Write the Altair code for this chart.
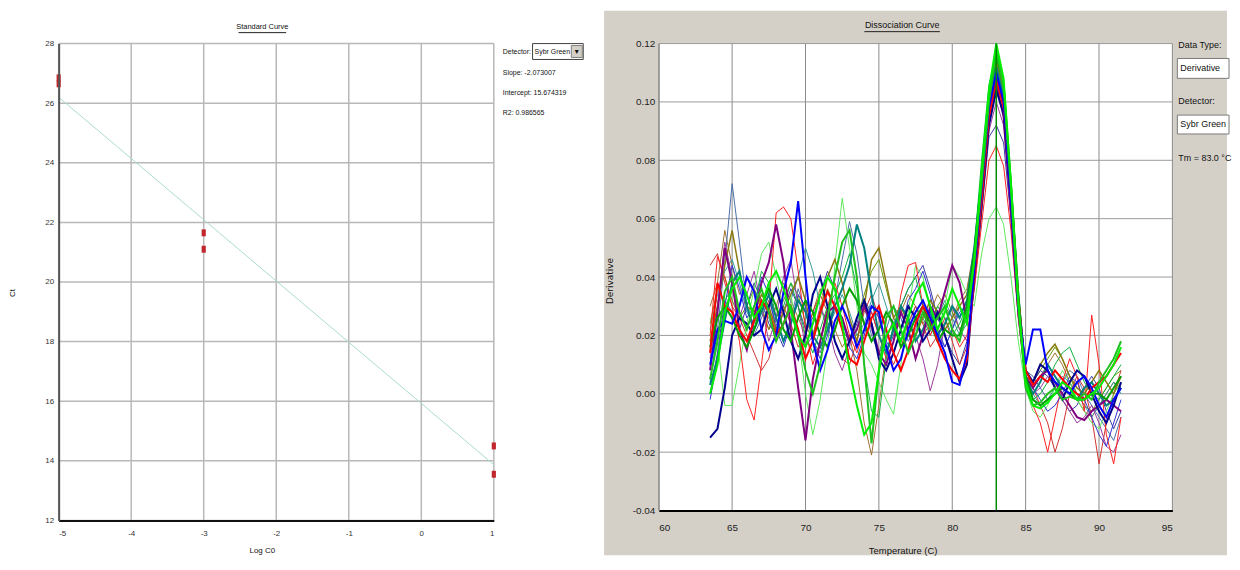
import altair as alt
import pandas as pd

FONT = "Liberation Sans Narrow, Arial Narrow, Liberation Sans, Arial, sans-serif"

# ---------------- Standard curve (left) ----------------
STD_LOG_C0 = [-5, -5, -3, -3, 1, 1]
STD_CT = [26.85, 26.65, 21.65, 21.10, 14.50, 13.55]
FIT_LOG_C0 = [-5, 1]
FIT_CT = [26.20, 13.87]
STD_X_TICKS = [-5, -4, -3, -2, -1, 0, 1]
STD_Y_TICKS = [12, 14, 16, 18, 20, 22, 24, 26, 28]
STD_STATS = ["Slope: -2.073007", "Intercept: 15.674319", "R2: 0.986565"]

# ---------------- Dissociation curve (right) ----------------
TEMPS = [63.5, 64.0, 64.5, 65.0, 65.5, 66.0, 66.5, 67.0, 67.5, 68.0,
         68.5, 69.0, 69.5, 70.0, 70.5, 71.0, 71.5, 72.0, 72.5, 73.0,
         73.5, 74.0, 74.5, 75.0, 75.5, 76.0, 76.5, 77.0, 77.5, 78.0,
         78.5, 79.0, 79.5, 80.0, 80.5, 81.0, 81.5, 82.0, 82.5, 83.0,
         83.5, 84.0, 84.5, 85.0, 85.5, 86.0, 86.5, 87.0, 87.5, 88.0,
         88.5, 89.0, 89.5, 90.0, 90.5, 91.0, 91.5]
DIS_X_TICKS = [60, 65, 70, 75, 80, 85, 90, 95]
DIS_Y_TICKS = [-0.04, -0.02, 0.0, 0.02, 0.04, 0.06, 0.08, 0.10, 0.12]
TM = [83.0]

# derivative values in thousandths (x 0.001)
RED_THICK = [14, 38, 30, 28, 22, 18, 25, 32, 28, 20, 24, 30, 22, 12, 18, 28, 35, 30, 22, 12,
             10, 18, 26, 30, 22, 14, 8, 15, 24, 30, 26, 18, 12, 8, 5, 12,
             40, 66, 95, 108, 98, 68, 32, 8,
             3, 6, 4, 8, 5, 2, 0, -2, 2, 4, 6, 10, 14]
BLUE_THICK = [10, 22, 25, 24, 30, 40, 35, 22, 15, 20, 35, 45, 66, 40, 18, 8, 15, 25, 30, 24,
              16, 22, 30, 28, 16, 8, 12, 22, 28, 32, 26, 20, 14, 4, 3, 14,
              42, 70, 98, 110, 100, 66, 30, 10,
              22, 22, 8, 4, 2, 0, 4, 6, 2, -4, -8, -2, 2]
GREEN_THICK = [5, 18, 35, 40, 28, 22, 30, 36, 28, 18, 24, 30, 20, 8, 0, 10, 26, 40, 52, 56,
               40, 10, -17, 8, 26, 30, 22, 14, 20, 28, 22, 26, 30, 22, 18, 28,
               45, 72, 100, 118, 105, 70, 30, 2,
               -4, -3, 0, 2, -2, -1, -2, 0, -2, 4, 8, 12, 18]
PURPLE_THICK = [8, 28, 50, 38, 22, 15, 26, 38, 45, 58, 45, 22, 2, -16, 5, 18, 28, 30, 26, 18,
                22, 30, 24, 14, 10, 18, 28, 22, 12, 20, 30, 26, 35, 44, 38, 25,
                42, 68, 96, 106, 95, 62, 28, 6,
                2, 6, 8, 4, 0, -4, -8, -9, -6, -4, -2, -4, -6]
TEAL_THICK = [3, 12, 25, 38, 42, 30, 22, 28, 34, 26, 18, 24, 32, 28, 20, 16, 22, 30, 36, 44,
              58, 50, 34, 20, 14, 22, 30, 26, 18, 22, 28, 20, 24, 30, 26, 32,
              50, 74, 100, 112, 102, 70, 34, 6,
              0, 4, 10, 6, 2, 0, -2, 2, 4, 0, -4, -2, 2]
NAVY_THICK = [-15, -12, 2, 20, 26, 24, 20, 22, 30, 36, 28, 18, 12, 20, 34, 40, 30, 18, 12, 18,
              26, 32, 24, 12, 8, 14, 22, 30, 26, 18, 22, 28, 20, 12, 4, 10,
              40, 64, 92, 104, 96, 66, 30, 8,
              4, 10, 8, 2, -2, 4, 8, 6, 0, -6, -10, -4, 4]
OLIVE = [18, 30, 44, 56, 42, 30, 28, 34, 30, 22, 28, 34, 40, 32, 20, 28, 40, 46, 38, 26,
         18, 30, 46, 50, 38, 26, 30, 24, 20, 26, 32, 28, 22, 26, 30, 34,
         48, 72, 100, 114, 104, 72, 34, 8,
         4, 10, 14, 17, 12, 6, 2, 0, 4, 8, 4, 0, 6]
LIME_THICK = [0, 10, 28, 36, 40, 34, 26, 30, 38, 42, 36, 28, 20, 16, 24, 34, 40, 36, 24, 8,
              -4, -14, -10, 8, 20, 24, 18, 26, 34, 38, 30, 22, 28, 36, 30, 24,
              46, 76, 104, 120, 108, 72, 32, 4,
              -4, -5, -3, 0, 4, 2, -2, -2, 0, 2, 6, 10, 16]
RED_THIN = [20, 47, 40, 30, 18, -2, -9, 10, 30, 62, 64, 60, 42, 22, 10, 18, 30, 38, 30, 20,
            14, 22, 28, 20, 12, 18, 34, 44, 45, 30, 20, 26, 30, 22, 16, 20,
            36, 58, 80, 85, 78, 56, 26, 4,
            -4, -10, -20, -8, 4, 12, 6, -6, 27, 10, -14, -24, -8]
BLUE_THIN = [-2, 12, 30, 44, 36, 26, 30, 40, 34, 22, 16, 24, 34, 30, 18, 12, 20, 30, 26, 16,
             12, 20, 30, 26, 18, 14, 22, 32, 36, 42, 34, 22, 16, 22, 28, 30,
             44, 70, 98, 108, 100, 68, 30, 6,
             2, -2, -6, -4, 0, 6, 4, -2, -8, -14, -18, -10, -2]
LIGHTGREEN_THIN = [26, 18, -4, -4, 10, 24, 36, 48, 52, 40, 28, 34, 20, 0, -14, -2, 16, 44, 67, 50,
                   30, 14, 10, 4, -2, -7, 10, 28, 44, 40, 30, 22, 30, 44, 40, 34,
                   30, 48, 60, 64, 58, 40, 18, 2,
                   -6, -8, -4, 2, 8, 4, -2, -6, -10, -12, -6, 0, 4]
PURPLE_THIN = [12, 30, 52, 40, 26, 34, 42, 30, 18, 26, 40, 46, 30, 16, 20, 30, 24, 14, 8, 16,
               26, 30, 22, 14, 18, 26, 30, 24, 20, 12, 1, 10, 24, 30, 22, 18,
               38, 64, 90, 100, 92, 62, 28, 4,
               0, 2, 6, 4, -2, -6, -10, -8, -4, -10, -18, -20, -14]
STEEL_THIN = [4, 22, 45, 72, 52, 30, 20, 26, 32, 24, 18, 26, 36, 28, 18, 14, 22, 32, 46, 59,
              48, 30, 20, 14, 22, 30, 26, 18, 22, 30, 26, 20, 16, 22, 30, 26,
              44, 70, 96, 110, 100, 68, 32, 8,
              6, 2, -2, 0, 4, 8, 6, 0, -4, -8, -12, -16, -8]
GREEN_THIN = [10, 20, 32, 36, 28, 22, 30, 42, 38, 26, 30, 38, 30, 20, 14, 22, 30, 34, 40, 48,
              36, 10, -6, -8, 12, 24, 30, 36, 40, 30, 24, 30, 26, 20, 24, 30,
              50, 80, 106, 116, 104, 70, 30, 4,
              -2, 0, 4, 10, 14, 16, 10, 4, 0, -2, 2, 6, 10]
CRIMSON_THIN = [44, 48, 38, 30, 26, 20, 14, 8, 12, 22, 30, 24, 16, 20, 28, 34, 28, 18, 12, 10,
                18, 28, 34, 26, 16, 10, 16, 24, 30, 24, 16, 20, 26, 18, 10, 16,
                40, 66, 94, 104, 96, 66, 28, 6,
                2, -4, -10, -20, -12, 0, 6, 2, -8, -24, -10, 0, 8]
DARKGREEN_THICK = [16, 26, 30, 26, 20, 16, 22, 30, 36, 30, 22, 18, 26, 32, 28, 20, 16, 22, 30, 36,
                   32, 24, 18, 22, 28, 24, 16, 20, 26, 30, 24, 18, 22, 20, 20, 30,
                   48, 74, 102, 116, 106, 72, 34, 6,
                   -2, -4, -2, 0, 2, 0, -2, -2, 0, 0, -2, 2, 6]
OLIVEGREEN_THIN = [24, 36, 40, 32, 26, 30, 36, 30, 22, 26, 32, 38, 34, 24, 18, 26, 36, 30, 22, 18,
                   26, 34, 42, 46, 36, 26, 22, 30, 26, 20, 24, 30, 34, 28, 22, 26,
                   44, 70, 98, 112, 100, 68, 30, 6,
                   4, 8, 12, 16, 12, 6, 0, -4, -6, -2, 2, 6, 8]
BROWN_THIN = [30, 38, 56, 44, 34, 40, 36, 28, 22, 30, 38, 32, 26, 20, 28, 36, 30, 22, 16, 20,
              8, -10, -21, -4, 14, 22, 28, 34, 30, 24, 28, 34, 30, 26, 32, 36,
              50, 76, 104, 114, 104, 70, 32, 6,
              2, 6, 10, 14, 10, 4, -2, -6, -8, -4, 0, 4, 2]
NAVY_THIN = [0, 14, 32, 28, 22, 30, 38, 32, 24, 20, 28, 36, 30, 22, 26, 34, 42, 36, 24, 18,
             24, 32, 28, 20, 14, 20, 30, 36, 40, 44, 36, 26, 20, 14, 10, 18,
             36, 62, 88, 92, 86, 60, 26, 4,
             4, 8, 6, 2, -2, -6, -4, 2, 6, 2, -6, -12, -6]
TEAL_THIN = [22, 34, 42, 46, 38, 28, 24, 30, 26, 18, 24, 32, 40, 50, 42, 30, 22, 28, 34, 28,
             20, 24, 32, 38, 30, 22, 18, 24, 30, 26, 20, 26, 32, 26, 20, 24,
             44, 70, 96, 108, 98, 66, 30, 6,
             0, -4, -2, 2, 6, 4, 0, -4, -8, -4, 0, 4, 0]

# (id, values, colour, stroke width) in drawing order
SERIES = [
    ("s01", OLIVEGREEN_THIN, "#669900", 1.0),
    ("s02", BROWN_THIN, "#a07030", 1.0),
    ("s03", TEAL_THIN, "#339999", 1.0),
    ("s04", NAVY_THIN, "#3a3aa0", 1.0),
    ("s05", CRIMSON_THIN, "#d03030", 1.0),
    ("s06", STEEL_THIN, "#4a6ea8", 1.0),
    ("s07", PURPLE_THIN, "#9a3a9a", 1.0),
    ("s08", LIGHTGREEN_THIN, "#5fe85f", 1.0),
    ("s09", RED_THIN, "#ff2020", 1.0),
    ("s10", BLUE_THIN, "#3030d0", 1.0),
    ("s11", GREEN_THIN, "#10b040", 1.0),
    ("s12", OLIVE, "#8a7a10", 1.5),
    ("s13", TEAL_THICK, "#008080", 2.0),
    ("s14", PURPLE_THICK, "#800080", 2.0),
    ("s15", NAVY_THICK, "#00008c", 2.0),
    ("s16", DARKGREEN_THICK, "#00a000", 2.0),
    ("s17", RED_THICK, "#ff0000", 2.0),
    ("s18", BLUE_THICK, "#0000ff", 2.0),
    ("s19", GREEN_THICK, "#20c020", 2.0),
    ("s20", LIME_THICK, "#00ee00", 2.0),
]

# ---------------- build tables ----------------
rows = []
for order, (sid, vals, col, w) in enumerate(SERIES):
    for t, v in zip(TEMPS, vals):
        rows.append({"temp": t, "deriv": v / 1000.0, "sid": sid, "w": w, "o": order})
curves_df = pd.DataFrame(rows)
std_pts = pd.DataFrame({"lx": STD_LOG_C0, "ly": STD_CT})
std_fit = pd.DataFrame({"lx": FIT_LOG_C0, "ly": FIT_CT})
std_xg = pd.DataFrame({"lx": STD_X_TICKS})
std_yg = pd.DataFrame({"ly": STD_Y_TICKS})
dis_xg = pd.DataFrame({"temp": DIS_X_TICKS})
dis_yg = pd.DataFrame({"deriv": DIS_Y_TICKS})
tm_df = pd.DataFrame({"temp": TM})
one = pd.DataFrame({"k": [0]})

LW, LH = 438, 480
RW, RH = 517, 470
HYPHEN = "replace(datum.label, '\u2212', '-')"


def box(x1, x2, y1, y2, fill, stroke=None, sw=1.0):
    kw = dict(fill=fill)
    if stroke:
        kw.update(stroke=stroke, strokeWidth=sw)
    return alt.Chart(one).mark_rect(**kw).encode(
        x=alt.value(x1), x2=alt.value(x2), y=alt.value(y1), y2=alt.value(y2))


def hline(x1, x2, y, color="black", sw=1.0):
    return alt.Chart(one).mark_rule(color=color, strokeWidth=sw).encode(
        x=alt.value(x1), x2=alt.value(x2), y=alt.value(y))


def label(txt, x, y, size=9, align="left", angle=0, font=FONT, color="#111111"):
    kw = dict(text=txt, align=align, baseline="middle", fontSize=size, font=font, color=color)
    if angle:
        kw["angle"] = angle
    return alt.Chart(one).mark_text(**kw).encode(x=alt.value(x), y=alt.value(y))


# ---------------- left chart ----------------
lx_axis = alt.Axis(values=STD_X_TICKS, title=None, grid=False, ticks=False, tickSize=0,
                   labelPadding=9, labelFont=FONT, labelFontSize=8, labelColor="#333333",
                   domainColor="#111111", domainWidth=2, zindex=1, format="d", labelExpr=HYPHEN)
ly_axis = alt.Axis(values=STD_Y_TICKS, title=None, grid=False, ticks=False, tickSize=0,
                   labelPadding=5, labelFont=FONT, labelFontSize=8, labelColor="#333333",
                   domainColor="#555555", domainWidth=2, zindex=1, format="d")
lx_scale = alt.Scale(domain=[-5, 1], nice=False, zero=False)
ly_scale = alt.Scale(domain=[12, 28], nice=False, zero=False)

left_layers = [
    box(-48, 540, -33, 515, "white"),
    alt.Chart(std_xg).mark_rule(color="#b8b8b8", strokeWidth=1.5).encode(
        x=alt.X("lx:Q", scale=lx_scale, axis=lx_axis), y=alt.value(0), y2=alt.value(LH)),
    alt.Chart(std_yg).mark_rule(color="#b8b8b8", strokeWidth=1.5).encode(
        y=alt.Y("ly:Q", scale=ly_scale, axis=ly_axis), x=alt.value(0), x2=alt.value(LW)),
    alt.Chart(std_fit).mark_line(color="#a9dccf", strokeWidth=1).encode(
        x=alt.X("lx:Q", scale=lx_scale, axis=lx_axis),
        y=alt.Y("ly:Q", scale=ly_scale, axis=ly_axis)),
    alt.Chart(std_pts).mark_point(shape="M-0.6,-1H0.6V1H-0.6Z", filled=True, size=49,
                                  color="#c0262b", opacity=1).encode(
        x=alt.X("lx:Q", scale=lx_scale, axis=lx_axis),
        y=alt.Y("ly:Q", scale=ly_scale, axis=ly_axis)),
    label("Standard Curve", 205, -17, size=7.5, align="center"),
    hline(181, 229, -11, color="#222222", sw=1),
    label("Ct", -46, 251, size=8, align="center", angle=270),
    label("Log C0", 205, 511, size=8, align="center"),
    label("Detector:", 447, 8, size=7),
    box(477, 528, 0, 16, "white", "#404040", 1),
    label("Sybr Green", 479, 8, size=7),
    box(516, 527, 2, 14, "#d4d0c8", "#808080", 1),
    label("\u25be", 521.5, 8, size=8, align="center", font="DejaVu Sans"),
    label(STD_STATS[0], 447, 30, size=7),
    label(STD_STATS[1], 447, 50, size=7),
    label(STD_STATS[2], 447, 70, size=7),
]
left = alt.layer(*left_layers).properties(width=LW, height=LH)

# ---------------- right chart ----------------
rx_axis = alt.Axis(values=DIS_X_TICKS, title=None, grid=False, ticks=False, tickSize=0,
                   labelPadding=12, labelFont=FONT, labelFontSize=10, labelColor="#222222",
                   domainColor="#000000", domainWidth=2, zindex=1, format="d")
ry_axis = alt.Axis(values=DIS_Y_TICKS, title=None, grid=False, ticks=False, tickSize=0,
                   labelPadding=4, labelFont=FONT, labelFontSize=10, labelColor="#222222",
                   domainColor="#8a8a8a", domainWidth=1, zindex=1, format=".2f",
                   labelExpr=HYPHEN)
rx_scale = alt.Scale(domain=[60, 95], nice=False, zero=False)
ry_scale = alt.Scale(domain=[-0.04, 0.12], nice=False, zero=False)

right_layers = [
    box(-55, 572, -33, 515, "#d4d0c8"),
    box(0, RW, 0, RH, "white"),
    alt.Chart(dis_xg).mark_rule(color="#8a8a8a", strokeWidth=1).encode(
        x=alt.X("temp:Q", scale=rx_scale, axis=rx_axis), y=alt.value(0), y2=alt.value(RH)),
    alt.Chart(dis_yg).mark_rule(color="#9a9a9a", strokeWidth=1).encode(
        y=alt.Y("deriv:Q", scale=ry_scale, axis=ry_axis), x=alt.value(0), x2=alt.value(RW)),
    alt.Chart(curves_df).mark_line(interpolate="linear").encode(
        x=alt.X("temp:Q", scale=rx_scale, axis=rx_axis),
        y=alt.Y("deriv:Q", scale=ry_scale, axis=ry_axis),
        color=alt.Color("sid:N", scale=alt.Scale(domain=[s[0] for s in SERIES],
                                                 range=[s[2] for s in SERIES]), legend=None),
        strokeWidth=alt.StrokeWidth("w:Q", scale=None, legend=None),
        detail="sid:N",
        order=alt.Order("temp:Q"),
    ),
    alt.Chart(tm_df).mark_rule(color="#008a00", strokeWidth=1.5).encode(
        x=alt.X("temp:Q", scale=rx_scale, axis=rx_axis), y=alt.value(0), y2=alt.value(RH)),
    label("Dissociation Curve", 245, -19, size=9, align="center"),
    hline(207, 283, -12, color="#222222", sw=1),
    label("Derivative", -49, 239, size=9, align="center", angle=270, font="DejaVu Sans"),
    label("Temperature (C)", 246, 511, size=9.5, align="center"),
    label("Data Type:", 523, 1, size=9),
    box(522, 574, 15, 35, "white", "#7a7a7a", 1),
    label("Derivative", 525, 25, size=9),
    label("Detector:", 523, 58, size=9),
    box(522, 574, 72, 91, "white", "#7a7a7a", 1),
    label("Sybr Green", 525, 81, size=9),
    label("Tm = 83.0 \u00b0C", 523, 115, size=9),
]
right = alt.layer(*right_layers).properties(width=RW, height=RH)

chart = alt.hconcat(left, right, spacing=166, bounds="flush").properties(
    padding=0
).configure_view(stroke="transparent")

chart.save("out.html", embed_options={"renderer": "svg", "actions": False})
